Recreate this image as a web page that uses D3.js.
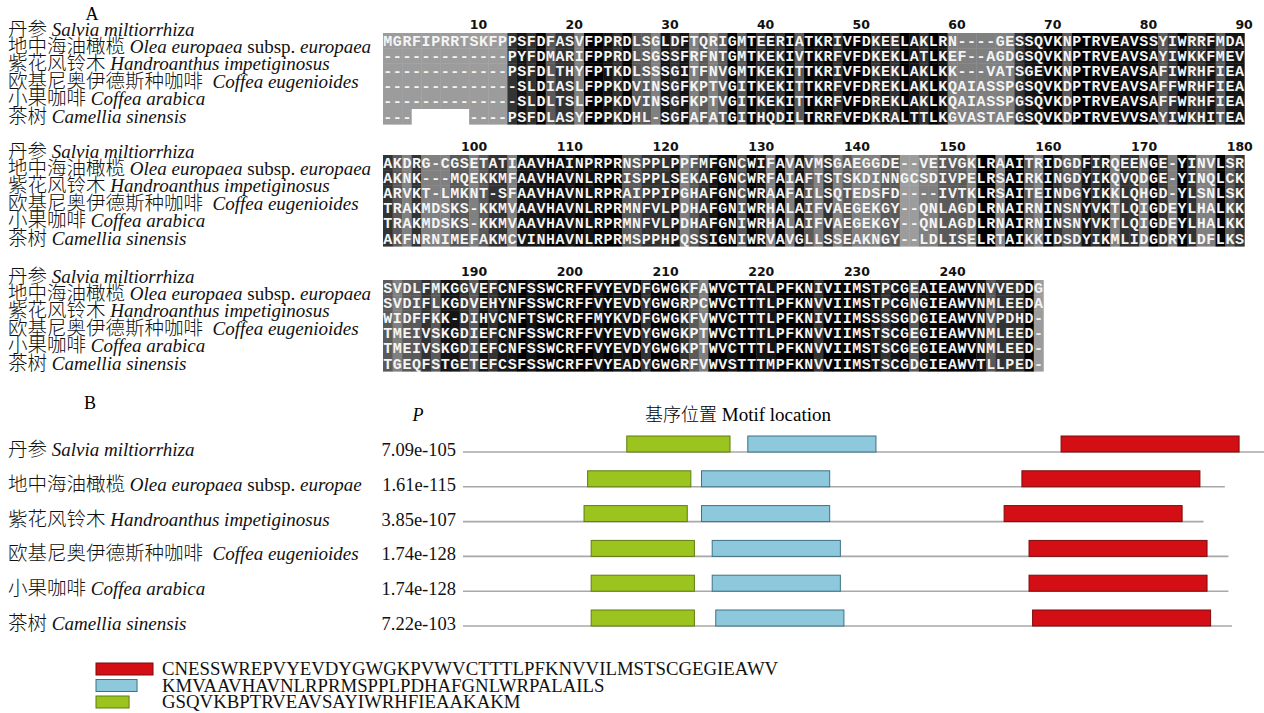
<!DOCTYPE html>
<html>
<head>
<meta charset="utf-8">
<script src="https://cdn.jsdelivr.net/npm/d3@7"></script>
<style>
  body { margin: 0; background: #fff; }
  svg { display: block; }
</style>
</head>
<body>
<svg id="fig"></svg>
<script>
// species names
var speciesCn = ["丹参", "地中海油橄榄", "紫花风铃木", "欧基尼奥伊德斯种咖啡", "小果咖啡", "茶树"];
var speciesLatin = ["Salvia miltiorrhiza", "Olea europaea", "Handroanthus impetiginosus",
  "Coffea eugenioides", "Coffea arabica", "Camellia sinensis"];
var subspA = ["", "europaea", "", "", "", ""];
var subspB = ["", "europae", "", "", "", ""];

// alignment, three blocks (" " = blank cell)
var block1 = [
  "MGRFIPRRTSKFPPSFDFASVFPPRDLSGLDFTQRIGMTEERIATKRIVFDKEELAKLRN----GESSQVKNPTRVEAVSSYIWRRFMDA",
  "-------------PYFDMARIFPPRDLSGSSFRFNTGMTKEKIVTKRFVFDKEKLATLKEF--AGDGSQVKNPTRVEAVSAYIWKKFMEV",
  "-------------PSFDLTHYFPTKDLSSSGITFNVGMTKEKITTKRIVFDKEKLAKLKK---VATSGEVKNPTRVEAVSAFIWRHFIEA",
  "--------------SLDIASLFPPKDVINSGFKPTVGITKEKITTKRFVFDREKLAKLKQAIASSPGSQVKDPTRVEAVSAFFWRHFIEA",
  "--------------SLDLTSLFPPKDVINSGFKPTVGITKEKITTKRFVFDREKLAKLKQAIASSPGSQVKDPTRVEAVSAFFWRHFIEA",
  "---      ----PSFDLASYFPPKDHL-SGFAFATGITHQDILTRRFVFDKRALTTLKGVASTAFGSQVKDPTRVEVVSAYIWKHITEA"
];
var block2 = [
  "AKDRG-CGSETATIAAVHAINPRPRNSPPLPPFMFGNCWIFAVAVMSGAEGGDE--VEIVGKLRAAITRIDGDFIRQEENGE-YINVLSR",
  "AKNK---MQEKKMFAAVHAVNLRPRISPPLSEKAFGNCWRFAIAFTSTSKDINNGCSDIVPELRSAIRKINGDYIKQVQDGE-YINQLCK",
  "ARVKT-LMKNT-SFAAVHAVNLRPRAIPPIPGHAFGNCWRAAFAILSQTEDSFD----IVTKLRSAITEINDGYIKKLQHGD-YLSNLSK",
  "TRAKMDSKS-KKMVAAVHAVNLRPRMNFVLPDHAFGNIWRHALAIFVAEGEKGY--QNLAGDLRNAIRNINSNYVKTLQIGDEYLHALKK",
  "TRAKMDSKS-KKMVAAVHAVNLRPRMNFVLPDHAFGNIWRHALAIFVAEGEKGY--QNLAGDLRNAIRNINSNYVKTLQIGDEYLHALKK",
  "AKFNRNIMEFAKMCVINHAVNLRPRMSPPHPQSSIGNIWRVAVGLLSSEAKNGY--LDLISELRTAIKKIDSDYIKMLIDGDRYLDFLKS"
];
var block3 = [
  "SVDLFMKGGVEFCNFSSWCRFFVYEVDFGWGKFAWVCTTALPFKNIVIIMSTPCGEAIEAWVNVVEDDG",
  "SVDIFLKGDVEHYNFSSWCRFFVYEVDYGWGRPCWVCTTTLPFKNVVIIMSTPCGNGIEAWVNMLEEDA",
  "WIDFFKK-DIHVCNFTSWCRFFMYKVDFGWGKFVWVCTTTLPFKNIVIIMSSSSGDGIEAWVNVPDHD-",
  "TMEIVSKGDIEFCNFSSWCRFFVYEVDYGWGKPTWVCTTTLPFKNVVIIMSTSCGEGIEAWVNMLEED-",
  "TMEIVSKGDIEFCNFSSWCRFFVYEVDYGWGKPTWVCTTTLPFKNVVIIMSTSCGEGIEAWVNMLEED-",
  "TGEQFSTGETEFCSFSSWCRFFVYEADYGWGRFVWVSTTTMPFKNVVIIMSTSCGDGIEAWVTLLPED-"
];
var posTicks = [10, 20, 30, 40, 50, 60, 70, 80, 90, 100, 110, 120, 130, 140, 150,
  160, 170, 180, 190, 200, 210, 220, 230, 240];

// motif diagram
var pValues = ["7.09e-105", "1.61e-115", "3.85e-107", "1.74e-128", "1.74e-128", "7.22e-103"];
var seqLength = [242, 214, 208, 215, 215, 216];
var motifNames = ["red", "blue", "green"];
var motifWidth = [50, 36, 29];
var redStart = [168, 157, 152, 159, 159, 160];
var blueStart = [80, 67, 67, 70, 70, 71];
var greenStart = [46, 35, 34, 36, 36, 36];
var motifSeqs = [
  "CNESSWREPVYEVDYGWGKPVWVCTTTLPFKNVVILMSTSCGEGIEAWV",
  "KMVAAVHAVNLRPRMSPPLPDHAFGNLWRPALAILS",
  "GSQVKBPTRVEAVSAYIWRHFIEAAKAKM"
];

var W = 1264, H = 713;
var serif = "'Liberation Serif', 'Times New Roman', serif";
var cjk = "'Noto Sans CJK SC', sans-serif";
var svg = d3.select("#fig").attr("width", W).attr("height", H);

// name label: Chinese + italic latin (+ subsp.)
var nameLabel = function (sel, i, subsp, cjkSize) {
  sel.append("tspan").text(speciesCn[i]).style("font-family", cjk)
    .style("font-size", cjkSize + "px").style("font-weight", 300);
  sel.append("tspan").text((i === 3 ? "\u00a0 " : " ") + speciesLatin[i]).style("font-style", "italic");
  if (subsp[i]) {
    sel.append("tspan").text(" subsp. ");
    sel.append("tspan").text(subsp[i]).style("font-style", "italic");
  }
};

// ---------- panel A ----------
var alnLeft = 383, colW = 9.57, rowH = 15.2, labelStep = 17.4;
var blockTops = [33, 155, 280];
var blocks = [block1, block2, block3];

svg.append("text").text("A").attr("x", 92).attr("y", 20)
  .attr("text-anchor", "middle").style("font-family", serif).style("font-size", "18px");

var shade = d3.scaleThreshold().domain([2, 3, 4, 5, 6])
  .range(["#9c9c9c", "#808080", "#5a5a5a", "#333333", "#151515", "#000000"]);

blocks.forEach(function (seqs, b) {
  var nCol = seqs[0].length;
  var offset = b * 90;
  var top = blockTops[b];
  var x = d3.scaleBand().domain(d3.range(nCol)).range([alnLeft, alnLeft + nCol * colW]);
  var y = d3.scaleBand().domain(d3.range(seqs.length)).range([top, top + seqs.length * rowH]);

  // identity count per column, gaps ignored
  var cons = d3.range(nCol).map(function (c) {
    var res = seqs.map(function (s) { return s[c]; })
      .filter(function (ch) { return ch !== "-" && ch !== " "; });
    var counts = d3.rollup(res, function (v) { return v.length; }, function (d) { return d; });
    return d3.max(Array.from(counts.values())) || 0;
  });

  var cells = [];
  seqs.forEach(function (s, r) {
    for (var c = 0; c < nCol; c++) cells.push({ r: r, c: c, ch: s[c] });
  });

  var g = svg.append("g").classed("block", true);
  g.selectAll("rect").data(cells).join("rect")
    .attr("x", function (d) { return x(d.c); })
    .attr("y", function (d) { return y(d.r); })
    .attr("width", x.bandwidth() + 0.4)
    .attr("height", y.bandwidth() + 0.4)
    .attr("fill", function (d) { return d.ch === " " ? "#fff" : shade(cons[d.c]); });

  g.selectAll("text.res").data(cells.filter(function (d) { return d.ch !== " "; }))
    .join("text").classed("res", true)
    .text(function (d) { return d.ch; })
    .attr("x", function (d) { return x(d.c) + x.bandwidth() / 2; })
    .attr("y", function (d) { return y(d.r) + y.bandwidth() / 2 + 5; })
    .attr("text-anchor", "middle")
    .style("font-family", "'Liberation Mono', 'DejaVu Sans Mono', monospace")
    .style("font-weight", "bold").style("font-size", "15px").attr("fill", "#f4f4f4");

  // position numbers
  g.selectAll("text.num")
    .data(posTicks.filter(function (p) { return p > offset && p <= offset + nCol; }))
    .join("text").classed("num", true)
    .text(function (p) { return p; })
    .attr("x", function (p) { return x(p - offset - 1) + x.bandwidth() + 8.5; })
    .attr("y", top - 4)
    .attr("text-anchor", "end")
    .style("font-family", "'DejaVu Sans', sans-serif").style("font-weight", "bold")
    .style("font-size", "12.5px").attr("fill", "#111");

  // species names
  var lastC = y(seqs.length - 1) + y.bandwidth() / 2;
  seqs.forEach(function (s, r) {
    var t = svg.append("text").attr("x", 8)
      .attr("y", lastC - (seqs.length - 1 - r) * labelStep + 6)
      .style("font-family", serif).style("font-size", "19px").attr("fill", "#111");
    nameLabel(t, r, subspA, 19.5);
  });
});

// ---------- panel B ----------
svg.append("text").text("B").attr("x", 90).attr("y", 409)
  .attr("text-anchor", "middle").style("font-family", serif).style("font-size", "18px");
svg.append("text").text("P").attr("x", 418).attr("y", 421)
  .attr("text-anchor", "middle").style("font-family", serif)
  .style("font-style", "italic").style("font-size", "18px");
var mt = svg.append("text").attr("x", 738).attr("y", 421).attr("text-anchor", "middle")
  .style("font-family", serif).style("font-size", "19px");
mt.append("tspan").text("基序位置").style("font-family", cjk).style("font-size", "18px").style("font-weight", 300);
mt.append("tspan").text(" Motif location");

var rowY = d3.scalePoint().domain(d3.range(6)).range([452, 626]);
var pos = d3.scaleLinear().domain([0, 240]).range([463, 463 + 240 * 3.56]);
var motifFill = { red: "#d30f15", blue: "#8dc8dc", green: "#9bc41f" };
var motifStroke = { red: "#7d0a0c", blue: "#3e7283", green: "#5f7d12" };
var motifStart = { red: redStart, blue: blueStart, green: greenStart };
var boxH = 16;

var gB = svg.append("g").classed("motifs", true);
d3.range(6).forEach(function (i) {
  var t = gB.append("text").attr("x", 8).attr("y", rowY(i) + 4)
    .style("font-family", serif).style("font-size", "19px").attr("fill", "#111");
  nameLabel(t, i, subspB, 19.5);
  gB.append("text").text(pValues[i]).attr("x", 456).attr("y", rowY(i) + 4)
    .attr("text-anchor", "end").style("font-family", serif).style("font-size", "18.5px")
    .attr("fill", "#111");
});

gB.selectAll("line.seq").data(seqLength).join("line").classed("seq", true)
  .attr("x1", pos(0)).attr("x2", function (d) { return pos(d); })
  .attr("y1", function (d, i) { return rowY(i); })
  .attr("y2", function (d, i) { return rowY(i); })
  .attr("stroke", "#a8a8a8").attr("stroke-width", 1.6);

motifNames.forEach(function (m, k) {
  gB.selectAll("rect." + m).data(motifStart[m]).join("rect").classed(m, true)
    .attr("x", function (d) { return pos(d); })
    .attr("y", function (d, i) { return rowY(i) - boxH; })
    .attr("width", pos(motifWidth[k]) - pos(0))
    .attr("height", boxH)
    .attr("fill", motifFill[m]).attr("stroke", motifStroke[m]).attr("stroke-width", 1);
});

// legend
var legY = d3.scalePoint().domain(d3.range(3)).range([669, 702]);
var legW = d3.scaleLinear().domain([0, 50]).range([0, 57]);
var gL = svg.append("g").classed("legend", true);
gL.selectAll("rect").data(motifNames).join("rect")
  .attr("x", 96)
  .attr("y", function (d, i) { return legY(i) - 6; })
  .attr("width", function (d, i) { return legW(motifWidth[i]); })
  .attr("height", 12)
  .attr("fill", function (d) { return motifFill[d]; })
  .attr("stroke", function (d) { return motifStroke[d]; });
gL.selectAll("text").data(motifSeqs).join("text")
  .text(function (d) { return d; })
  .attr("x", 162)
  .attr("y", function (d, i) { return legY(i) + 6; })
  .style("font-family", serif).style("font-size", "18.8px").attr("fill", "#111");
</script>
</body>
</html>
